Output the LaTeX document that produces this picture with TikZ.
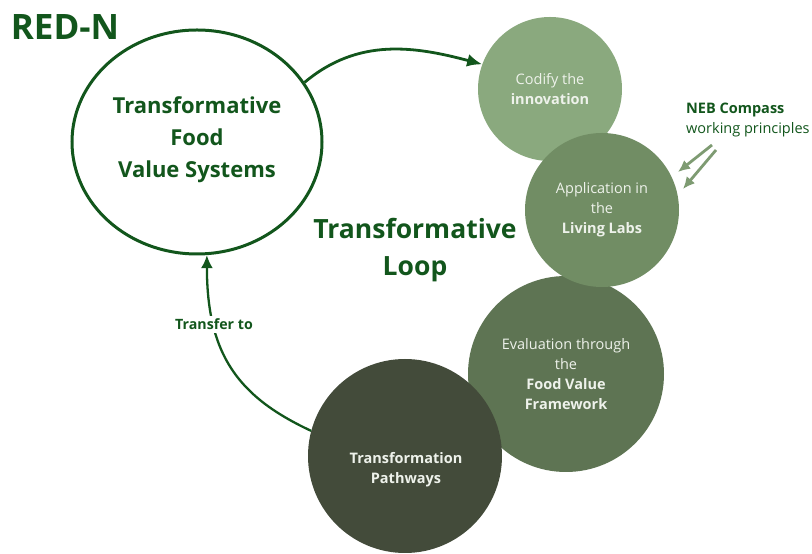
\documentclass[tikz,border=0pt]{standalone}
\usepackage{fontspec}
\setmainfont{Open Sans}
\usepackage{tikz}
\usetikzlibrary{shapes.geometric, arrows.meta}

\definecolor{redn}{HTML}{12561C}
\definecolor{codifyc}{HTML}{8AA97E}
\definecolor{applyc}{HTML}{718D64}
\definecolor{evalc}{HTML}{5E7453}
\definecolor{pathc}{HTML}{434B3A}
\definecolor{nebc}{HTML}{7E9B72}
\definecolor{circtext}{HTML}{EEF2EB}

\begin{document}
\begin{tikzpicture}[x=1pt, y=1pt, stage/.style={circle, inner sep=0pt, text=circtext, align=center, font=\fontsize{14.5}{20}\selectfont}, title/.style={text=redn, align=center, font=\bfseries}, n/.style={-{Latex[length=15pt, width=13pt]}, line width=2.8pt, draw=redn}, t/.style={-{Latex[length=13pt, width=12pt]}, line width=2.3pt, draw=redn}, neb/.style={-{Latex[length=12pt, width=11pt]}, line width=2.8pt, draw=nebc}]
            \useasboundingbox (0,0) rectangle (812,554);
            % nodes
            \node[title, font=\fontsize{35}{40}\bfseries\selectfont] (redn) at (65,527) {RED-N};
            \node[title, ellipse, draw=redn, line width=3pt, minimum width=250pt, minimum height=224pt, inner sep=0pt, font=\fontsize{22}{32}\bfseries\selectfont] (tfvs) at (197,412) {};
            \node[title, font=\fontsize{22}{32}\bfseries\selectfont] (tfvstext) at (197,414) {Transformative\\Food\\Value Systems};

            \node[stage, fill=codifyc, minimum size=144pt] (codify) at (550,465) {Codify the\\\textbf{innovation}};
            \node[stage, fill=evalc, minimum size=196pt] (evaluation) at (566,180) {Evaluation through\\the\\\textbf{Food Value}\\\textbf{Framework}};
            \node[stage, fill=applyc, minimum size=154pt] (application) at (602,344) {Application in\\the\\\textbf{Living Labs}};
            \node[stage, fill=pathc, minimum size=194pt] (pathways) at (405,98) {};
            \node[stage, font=\fontsize{14.5}{20}\bfseries\selectfont] (pathtext) at (406,84) {Transformation\\Pathways};

            \node[title, font=\fontsize{26.5}{37}\bfseries\selectfont] (loop) at (415,304) {Transformative\\Loop};

            \node[text=redn, anchor=west, align=left, inner sep=0pt, font=\fontsize{14.5}{20}\selectfont] (compass) at (686,434) {\textbf{NEB Compass}\\working principles};
            \coordinate (neb1) at (712,409);
            \coordinate (neb1end) at (678,382);
            \coordinate (neb2) at (716,404);
            \coordinate (neb2end) at (683,365);
            % edges
            \draw [n] (tfvs.29) to[out=40, in=165] (codify.160);
            \draw [t] (pathways.165) .. controls +(155:80) and +(-90:100) .. (tfvs.275)
                node[pos=0.73, fill=white, text=redn, inner sep=3pt, font=\fontsize{14.2}{16}\bfseries\selectfont] (transfer) {Transfer to};

            \draw [neb] (neb1) -- (neb1end);
            \draw [neb] (neb2) -- (neb2end);
        \end{tikzpicture}
\end{document}
